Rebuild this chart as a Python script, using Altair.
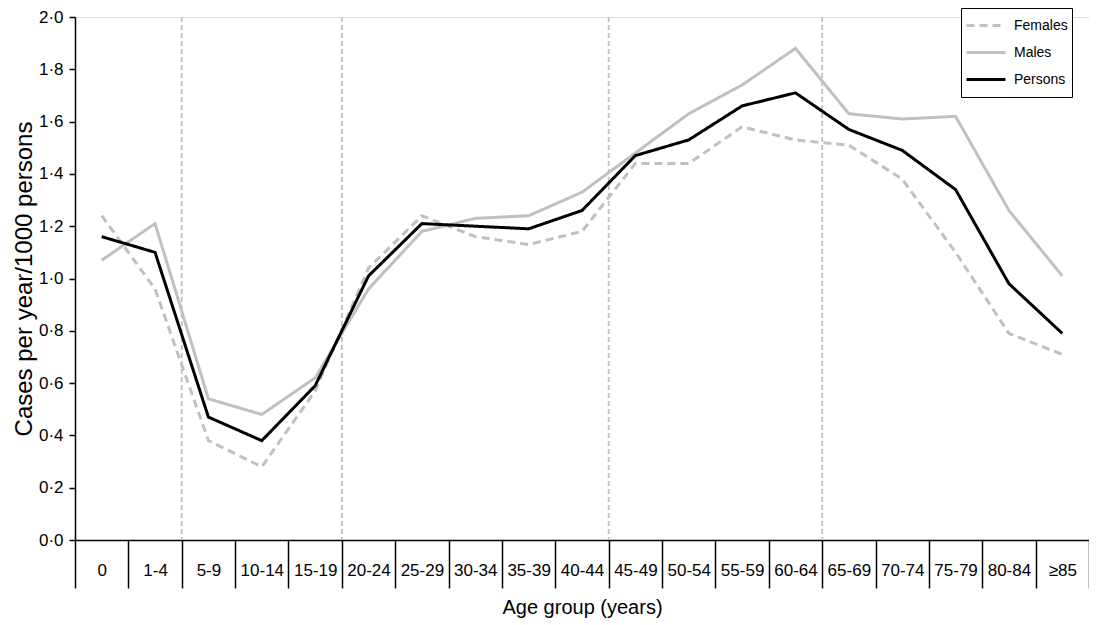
import altair as alt
import pandas as pd

ages = ["0", "1-4", "5-9", "10-14", "15-19", "20-24", "25-29", "30-34", "35-39",
        "40-44", "45-49", "50-54", "55-59", "60-64", "65-69", "70-74", "75-79",
        "80-84", "≥85"]
females = [1.24, 0.96, 0.38, 0.28, 0.57, 1.04, 1.24, 1.16, 1.13, 1.18, 1.44,
           1.44, 1.58, 1.53, 1.51, 1.38, 1.10, 0.79, 0.71]
males = [1.07, 1.21, 0.54, 0.48, 0.62, 0.96, 1.18, 1.23, 1.24, 1.33, 1.48,
         1.63, 1.74, 1.88, 1.63, 1.61, 1.62, 1.26, 1.01]
persons = [1.16, 1.10, 0.47, 0.38, 0.59, 1.01, 1.21, 1.20, 1.19, 1.26, 1.47,
           1.53, 1.66, 1.71, 1.57, 1.49, 1.34, 0.98, 0.79]
series_names = ["Females", "Males", "Persons"]
divider_groups = ["5-9", "20-24", "45-49", "65-69"]
y_ticks = [0.0, 0.2, 0.4, 0.6, 0.8, 1.0, 1.2, 1.4, 1.6, 1.8, 2.0]

rows = []
for name, vals in zip(series_names, [females, males, persons]):
    for a, v in zip(ages, vals):
        rows.append({"age": a, "rate": v, "series": name})
df = pd.DataFrame(rows)
div_df = pd.DataFrame({"age": divider_groups})

FONT = "Liberation Sans"
xscale = alt.Scale(type="band", domain=ages, paddingInner=0, paddingOuter=0)

x_axis = alt.Axis(
    labelAngle=0, tickBand="extent", tickSize=48, labelPadding=-18,
    labelBaseline="middle", domainColor="black", tickColor="black",
    domainWidth=1.5, tickWidth=1.5, labelColor="black",
    labelFontSize=17, labelFont=FONT, titleFont=FONT, titleFontSize=20,
    titleFontWeight="normal", titleColor="black", titlePadding=9,
    labelOverlap=False, labelFlush=False, grid=False,
)
y_axis = alt.Axis(
    values=y_ticks, format=".1f", labelExpr="replace(datum.label, '.', '·')",
    grid=False, tickSize=6, domainColor="black", tickColor="black",
    domainWidth=1.5, tickWidth=1.5, labelColor="black",
    labelFontSize=17, labelFont=FONT, titleFont=FONT, titleFontSize=24,
    titleFontWeight="normal", titleColor="black", labelPadding=6, titlePadding=2,
)

X = alt.X("age:N", sort=ages, scale=xscale, bandPosition=0.5,
          axis=x_axis, title="Age group (years)")
Y = alt.Y("rate:Q", scale=alt.Scale(domain=[0, 2], nice=False, zero=True),
          axis=y_axis, title="Cases per year/1000 persons")

legend = alt.Legend(
    title=None, orient="none", legendX=886, legendY=-9,
    fillColor="white", strokeColor="black", padding=4,
    symbolType="stroke", symbolSize=1521, labelFontSize=14, labelFont=FONT,
    labelColor="black", rowPadding=0, clipHeight=27, labelOffset=7,
    labelExpr="datum.label + '  '",
)
color = alt.Color("series:N", scale=alt.Scale(domain=series_names,
                  range=["#c0c0c0", "#c0c0c0", "#000000"]), legend=legend)
dash = alt.StrokeDash("series:N", scale=alt.Scale(domain=series_names,
                      range=[[8, 5], [1, 0], [1, 0]]), legend=legend)
width = alt.StrokeWidth("series:N", scale=alt.Scale(domain=series_names,
                        range=[3, 3, 4.2]), legend=legend)

rules = alt.Chart(div_df).mark_rule(color="#c0c0c0", strokeDash=[5, 3],
                                    strokeWidth=1.8).encode(
    x=alt.X("age:N", sort=ages, scale=xscale, bandPosition=0, axis=x_axis,
            title="Age group (years)")
)

layers = [rules]
for name in series_names:
    layers.append(
        alt.Chart(df).transform_filter(alt.datum.series == name)
        .mark_line(strokeJoin="miter", strokeCap="butt")
        .encode(x=X, y=Y, color=color, strokeDash=dash, strokeWidth=width)
    )

chart = alt.layer(*layers).properties(
    width=1014, height=523,
    padding={"left": 67, "top": 9, "right": 0, "bottom": 80},
    autosize="none",
).configure_view(strokeWidth=0).configure(font=FONT)

chart.save("out.html", embed_options={"renderer": "svg", "actions": False})
